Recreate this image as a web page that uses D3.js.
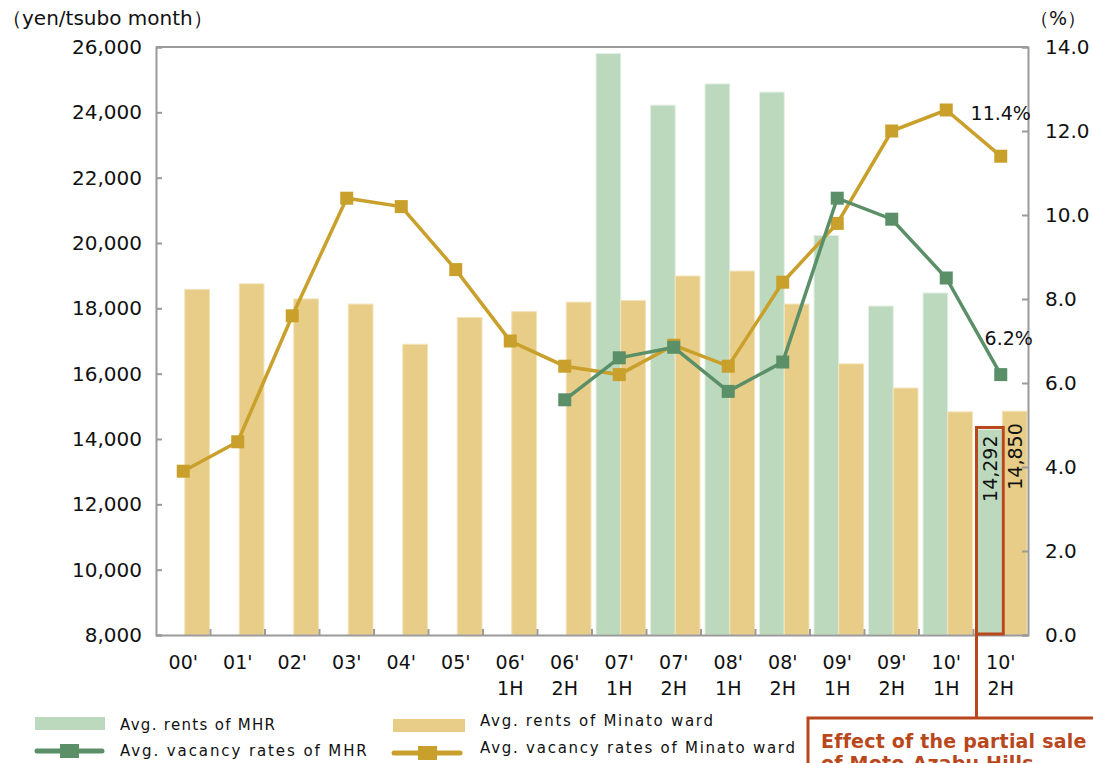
<!DOCTYPE html>
<html>
<head>
<meta charset="utf-8">
<script src="https://cdn.jsdelivr.net/npm/d3@7"></script>
<style>
  html, body { margin: 0; padding: 0; background: #fff; }
  svg { display: block; font-family: "DejaVu Sans", Verdana, sans-serif; }
</style>
</head>
<body>
<svg id="chart" width="1093" height="763"></svg>
<script>
// Half-year periods on the x axis (line break between year and half)
const categories = ["00'", "01'", "02'", "03'", "04'", "05'", "06' 1H", "06' 2H",
  "07' 1H", "07' 2H", "08' 1H", "08' 2H", "09' 1H", "09' 2H", "10' 1H", "10' 2H"];

// Average rents (yen/tsubo month)
const rentMHR = [null, null, null, null, null, null, null, null,
  25800, 24220, 24870, 24620, 20230, 18070, 18470, 14292];
const rentMinato = [18580, 18750, 18290, 18130, 16900, 17720, 17900, 18190,
  18240, 18990, 19140, 18130, 16300, 15560, 14830, 14850];

// Average vacancy rates (%)
const vacMHR = [null, null, null, null, null, null, null, 5.6,
  6.6, 6.85, 5.8, 6.5, 10.4, 9.9, 8.5, 6.2];
const vacMinato = [3.9, 4.6, 7.6, 10.4, 10.2, 8.7, 7.0, 6.4,
  6.2, 6.9, 6.4, 8.4, 9.8, 12.0, 12.5, 11.4];

// Axis ticks
const rentTicks = [8000, 10000, 12000, 14000, 16000, 18000, 20000, 22000, 24000, 26000];
const vacTicks = [0, 2, 4, 6, 8, 10, 12, 14];

const C = {
  mhrBar: "#bcd9be", minBar: "#e8cd88",
  mhrLine: "#5a8f68", minLine: "#c9a02b",
  axis: "#9a9a9a", text: "#111", note: "#b9471c"
};

const svg = d3.select("#chart");
const L = 156, R = 1028, T = 47, B = 635;

const x = d3.scaleBand().domain(categories).range([L, R]);
const bw = x.bandwidth();
const xs = d3.scaleBand().domain(["mhr", "min"]).range([4, bw - 1]);
const yL = d3.scaleLinear().domain([8000, 26000]).range([B, T]);
const yR = d3.scaleLinear().domain([0, 14]).range([B, T]);
const cx = c => x(c) + bw / 2;

// Bars
const g = svg.append("g");
g.selectAll("rect.mhr").data(categories.map((c, i) => ({ c, v: rentMHR[i] })).filter(d => d.v != null))
  .join("rect").attr("class", "mhr")
  .attr("x", d => x(d.c) + xs("mhr")).attr("width", xs.bandwidth())
  .attr("y", d => yL(d.v)).attr("height", d => B - yL(d.v))
  .attr("fill", C.mhrBar).attr("stroke", "#e4efe5").attr("stroke-width", 1);
g.selectAll("rect.min").data(categories.map((c, i) => ({ c, v: rentMinato[i] })))
  .join("rect").attr("class", "min")
  .attr("x", d => x(d.c) + xs("min")).attr("width", xs.bandwidth())
  .attr("y", d => yL(d.v)).attr("height", d => B - yL(d.v))
  .attr("fill", C.minBar).attr("stroke", "#f3e3bb").attr("stroke-width", 1);

// Frame and axes
svg.append("line").attr("x1", L).attr("x2", R).attr("y1", T).attr("y2", T)
  .attr("stroke", C.axis).attr("stroke-width", 2);

const axL = svg.append("g").attr("transform", `translate(${L},0)`)
  .call(d3.axisLeft(yL).tickValues(rentTicks).tickSize(-6).tickPadding(14)
    .tickFormat(d3.format(",")));
const axR = svg.append("g").attr("transform", `translate(${R},0)`)
  .call(d3.axisRight(yR).tickValues(vacTicks).tickSize(-6).tickPadding(17)
    .tickFormat(d3.format(".1f")));
const axB = svg.append("g").attr("transform", `translate(0,${B})`)
  .call(d3.axisBottom(x).tickSize(0).tickPadding(0).tickFormat(""));
[axL, axR, axB].forEach(a => {
  a.select(".domain").attr("stroke", C.axis).attr("stroke-width", 2);
  a.selectAll(".tick line").attr("stroke", C.axis).attr("stroke-width", 2);
  a.selectAll("text").attr("fill", C.text).attr("font-size", 20)
    .attr("font-family", "'DejaVu Sans', Verdana, sans-serif");
});
// Separators between periods along the bottom axis
svg.append("g").selectAll("line").data(categories.slice(1))
  .join("line").attr("x1", d => x(d)).attr("x2", d => x(d))
  .attr("y1", B).attr("y2", B - 6).attr("stroke", C.axis).attr("stroke-width", 2);

// Category labels
const cl = svg.append("g").selectAll("text").data(categories).join("text")
  .attr("text-anchor", "middle").attr("font-size", 19).attr("fill", C.text);
cl.each(function (d) {
  const parts = d.split(" ");
  const t = d3.select(this);
  parts.forEach((p, j) => t.append("tspan").attr("x", cx(d)).attr("y", 669 + j * 26).text(p));
});

// Unit labels
svg.append("text").attr("x", 2).attr("y", 25).attr("font-size", 20).attr("fill", C.text)
  .text("（yen/tsubo month）");
svg.append("text").attr("x", 1030).attr("y", 25).attr("font-size", 19).attr("fill", C.text)
  .text("（%）");

// Vacancy lines
function drawLine(vals, color) {
  const pts = categories.map((c, i) => ({ c, v: vals[i] })).filter(d => d.v != null);
  svg.append("path").datum(pts)
    .attr("d", d3.line().x(d => cx(d.c)).y(d => yR(d.v)))
    .attr("fill", "none").attr("stroke", color).attr("stroke-width", 3.5);
  svg.append("g").selectAll("rect").data(pts).join("rect")
    .attr("x", d => cx(d.c) - 6.5).attr("y", d => yR(d.v) - 6.5)
    .attr("width", 13).attr("height", 13).attr("fill", color);
  return pts;
}
drawLine(vacMinato, C.minLine);
drawLine(vacMHR, C.mhrLine);

// Value labels on the last period
const last = categories[categories.length - 1];
const n = categories.length - 1;
svg.append("text").attr("x", cx(last)).attr("y", yR(vacMinato[n]) - 36)
  .attr("text-anchor", "middle").attr("font-size", 19).attr("fill", C.text)
  .text(vacMinato[n].toFixed(1) + "%");
svg.append("text").attr("x", cx(last) + 8).attr("y", yR(vacMHR[n]) - 30)
  .attr("text-anchor", "middle").attr("font-size", 19).attr("fill", C.text)
  .text(vacMHR[n].toFixed(1) + "%");

const bx1 = x(last) + xs("mhr") + xs.bandwidth() / 2;
const bx2 = x(last) + xs("min") + xs.bandwidth() / 2;
svg.append("text").attr("transform", `translate(${bx1 + 7},${yL(rentMHR[n]) + 6}) rotate(-90)`)
  .attr("text-anchor", "end").attr("font-size", 19).attr("fill", C.text)
  .text(d3.format(",")(rentMHR[n]));
svg.append("text").attr("transform", `translate(${bx2 + 7},${yL(rentMinato[n]) + 12}) rotate(-90)`)
  .attr("text-anchor", "end").attr("font-size", 19).attr("fill", C.text)
  .text(d3.format(",")(rentMinato[n]));

// Callout for the last MHR bar
const bxL = x(last) + xs("mhr") - 1;
svg.append("rect").attr("x", bxL).attr("y", yL(rentMHR[n]) - 2)
  .attr("width", xs.bandwidth() + 2).attr("height", B - yL(rentMHR[n]) + 1)
  .attr("fill", "none").attr("stroke", C.note).attr("stroke-width", 3);
svg.append("line").attr("x1", bxL).attr("x2", bxL).attr("y1", B).attr("y2", 718)
  .attr("stroke", C.note).attr("stroke-width", 3);
svg.append("rect").attr("x", 808).attr("y", 718).attr("width", 320).attr("height", 80)
  .attr("fill", "#fff").attr("stroke", C.note).attr("stroke-width", 3);
const note = svg.append("text").attr("font-size", 19).attr("font-weight", "bold").attr("fill", C.note)
  .attr("letter-spacing", 0.2);
note.append("tspan").attr("x", 821).attr("y", 748).text("Effect of the partial sale");
note.append("tspan").attr("x", 821).attr("y", 770).text("of Moto-Azabu Hills");

// Legend
const lg = svg.append("g").attr("font-size", 15).attr("fill", C.text);
lg.append("rect").attr("x", 35).attr("y", 717).attr("width", 70).attr("height", 13).attr("fill", C.mhrBar);
lg.append("text").attr("x", 120).attr("y", 730).attr("letter-spacing", 1.3).text("Avg. rents of MHR");
lg.append("rect").attr("x", 393).attr("y", 719).attr("width", 72).attr("height", 13).attr("fill", C.minBar);
lg.append("text").attr("x", 480).attr("y", 726).attr("letter-spacing", 1.7).text("Avg. rents of Minato ward");

lg.append("line").attr("x1", 37).attr("x2", 102).attr("y1", 751).attr("y2", 751)
  .attr("stroke", C.mhrLine).attr("stroke-width", 5).attr("stroke-linecap", "round");
lg.append("rect").attr("x", 60).attr("y", 744).attr("width", 19).attr("height", 14).attr("fill", C.mhrLine);
lg.append("text").attr("x", 120).attr("y", 756).attr("letter-spacing", 1.9).text("Avg. vacancy rates of MHR");
lg.append("line").attr("x1", 394).attr("x2", 460).attr("y1", 753).attr("y2", 753)
  .attr("stroke", C.minLine).attr("stroke-width", 5).attr("stroke-linecap", "round");
lg.append("rect").attr("x", 418).attr("y", 746).attr("width", 19).attr("height", 14).attr("fill", C.minLine);
lg.append("text").attr("x", 480).attr("y", 753).attr("letter-spacing", 1.75).text("Avg. vacancy rates of Minato ward");
</script>
</body>
</html>
